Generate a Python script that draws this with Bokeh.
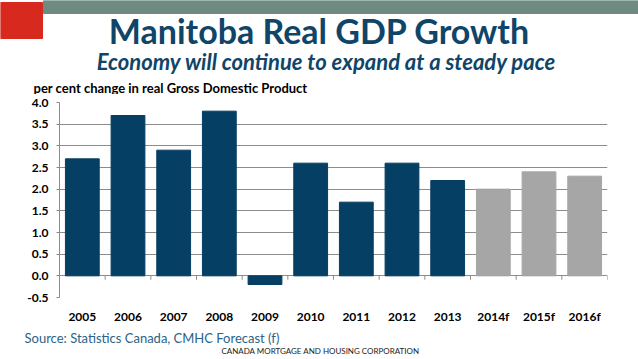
from bokeh.plotting import figure
from bokeh.layouts import column
from bokeh.models import (FactorRange, Range1d, NumeralTickFormatter,
                          FixedTicker, ColumnDataSource)
from bokeh.core.properties import value
from bokeh.embed import file_html
from bokeh.resources import INLINE

years = ["2005", "2006", "2007", "2008", "2009", "2010", "2011", "2012",
         "2013", "2014f", "2015f", "2016f"]
growth = [2.7, 3.7, 2.9, 3.8, -0.2, 2.6, 1.7, 2.6, 2.2, 2.0, 2.4, 2.3]
forecast = [False] * 9 + [True] * 3
y_ticks = [-0.5, 0.0, 0.5, 1.0, 1.5, 2.0, 2.5, 3.0, 3.5, 4.0]

title = "Manitoba Real GDP Growth"
subtitle = "Economy will continue to expand at a steady pace"
y_label = "per cent change in real Gross Domestic Product"
source_note = "Source:  Statistics Canada, CMHC Forecast (f)"
footer = "CANADA MORTGAGE AND HOUSING CORPORATION"

NAVY = "#053f63"
GREY = "#a6a6a6"
TITLE_C = "#0f4568"
GRID = "#8c8c8c"
FONT = "Lato"
W = 638


def blank(height):
    f = figure(width=W, height=height, x_range=Range1d(0, W),
               y_range=Range1d(height, 0), output_backend="svg",
               toolbar_location=None, x_axis_location=None,
               y_axis_location=None, min_border=0)
    f.grid.visible = False
    f.outline_line_color = None
    f.frame_align = False
    return f


# ---------- header ----------
H_HEAD = 94
head = blank(H_HEAD)
head.quad(left=[0], right=[42], top=[2], bottom=[38], color="#d8291f")
head.quad(left=[43], right=[W], top=[0], bottom=[13], color="#6d8b80")
head.text(x=[319], y=[30], text=[title], text_font=value(FONT),
          text_font_size="34px", text_font_style="bold", text_color=TITLE_C,
          text_align="center", text_baseline="middle")
head.text(x=[326], y=[61], text=[subtitle], text_font=value(FONT),
          text_font_size="22px", text_font_style="bold italic",
          text_color=TITLE_C, text_align="center", text_baseline="middle")
head.text(x=[33], y=[87], text=[y_label], text_font=value(FONT),
          text_font_size="13px", text_font_style="bold", text_color="black",
          text_align="left", text_baseline="middle")

# ---------- main chart ----------
colors = [GREY if f else NAVY for f in forecast]
src = ColumnDataSource(dict(x=years, y=growth, c=colors))

p = figure(width=W, height=232, x_range=FactorRange(*years),
           y_range=Range1d(-0.5, 4.0), output_backend="svg",
           toolbar_location=None, min_border_left=59, min_border_right=31,
           min_border_top=8, min_border_bottom=26)
p.outline_line_color = None

p.vbar(x="x", top="y", bottom=0, width=0.74, color="c", source=src)

# axis tick marks on the zero line, at category boundaries
bounds = list(range(1, len(years) + 1))
p.segment(x0=bounds, x1=bounds, y0=[0] * len(bounds),
          y1=[-0.09] * len(bounds), line_color=GRID, line_width=1)

p.xgrid.grid_line_color = None
p.ygrid.grid_line_color = GRID
p.ygrid.grid_line_width = 1
p.yaxis.ticker = FixedTicker(ticks=y_ticks)
p.yaxis.formatter = NumeralTickFormatter(format="0.0")
p.yaxis.axis_line_color = GRID
p.yaxis.major_tick_line_color = GRID
p.yaxis.major_tick_out = 3
p.yaxis.major_tick_in = 0
p.yaxis.minor_tick_line_color = None
p.yaxis.major_label_standoff = 8
p.yaxis.major_label_text_font = FONT
p.yaxis.major_label_text_font_style = "bold"
p.yaxis.major_label_text_font_size = "12px"
p.yaxis.major_label_text_color = "black"

p.xaxis.axis_line_color = None
p.xaxis.major_tick_line_color = None
p.xaxis.major_label_standoff = 5
p.xaxis.major_label_text_font = FONT
p.xaxis.major_label_text_font_style = "bold"
p.xaxis.major_label_text_font_size = "12px"
p.xaxis.major_label_text_color = "black"

# ---------- footer ----------
H_FOOT = 33
foot = blank(H_FOOT)
foot.text(x=[24], y=[11], text=[source_note], text_font=value(FONT),
          text_font_size="13px", text_color="#2b6387", text_align="left",
          text_baseline="middle")
foot.text(x=[320], y=[24], text=[footer], text_font=value(FONT),
          text_font_size="8px", text_color="#222222", text_align="center",
          text_baseline="middle")

layout = column(head, p, foot, spacing=0)
open("out.html", "w").write(file_html(layout, INLINE))
